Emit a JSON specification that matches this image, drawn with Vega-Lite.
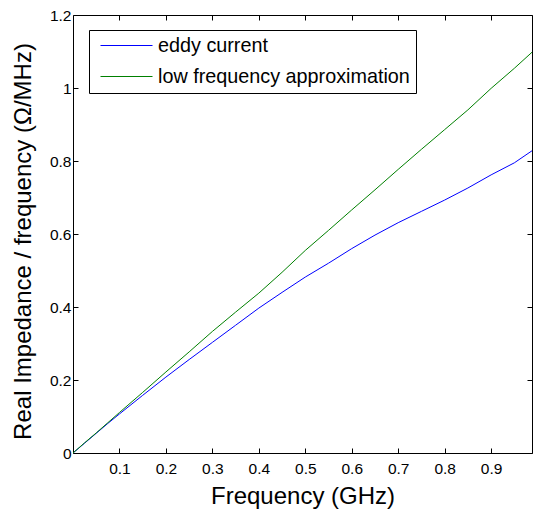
{
  "$schema": "https://vega.github.io/schema/vega-lite/v6.json",
  "autosize": "none",
  "width": 459,
  "height": 438,
  "padding": {"left": 73, "top": 15, "right": 1, "bottom": 59},
  "background": "white",
  "config": {
    "view": {"stroke": null},
    "font": "Liberation Sans",
    "axis": {
      "domainColor": "black",
      "tickColor": "black",
      "labelColor": "black",
      "titleColor": "black",
      "grid": false,
      "tickSize": -5,
      "labelFont": "Liberation Sans",
      "titleFont": "Liberation Sans",
      "labelFontSize": 15.5,
      "titleFontSize": 24,
      "titleFontWeight": "normal"
    }
  },
  "data": {
    "values": [
      {"series": "eddy current", "f": 0.0, "z": 0.0},
      {"series": "eddy current", "f": 0.025, "z": 0.027},
      {"series": "eddy current", "f": 0.05, "z": 0.054},
      {"series": "eddy current", "f": 0.075, "z": 0.081},
      {"series": "eddy current", "f": 0.1, "z": 0.107},
      {"series": "eddy current", "f": 0.15, "z": 0.158},
      {"series": "eddy current", "f": 0.2, "z": 0.208},
      {"series": "eddy current", "f": 0.25, "z": 0.256},
      {"series": "eddy current", "f": 0.3, "z": 0.303},
      {"series": "eddy current", "f": 0.35, "z": 0.35},
      {"series": "eddy current", "f": 0.4, "z": 0.397},
      {"series": "eddy current", "f": 0.45, "z": 0.44},
      {"series": "eddy current", "f": 0.5, "z": 0.482},
      {"series": "eddy current", "f": 0.55, "z": 0.52},
      {"series": "eddy current", "f": 0.6, "z": 0.56},
      {"series": "eddy current", "f": 0.65, "z": 0.597},
      {"series": "eddy current", "f": 0.7, "z": 0.631},
      {"series": "eddy current", "f": 0.75, "z": 0.662},
      {"series": "eddy current", "f": 0.8, "z": 0.693},
      {"series": "eddy current", "f": 0.85, "z": 0.726},
      {"series": "eddy current", "f": 0.9, "z": 0.762},
      {"series": "eddy current", "f": 0.95, "z": 0.795},
      {"series": "eddy current", "f": 0.988, "z": 0.828},
      {"series": "low frequency approximation", "f": 0.0, "z": 0.0},
      {"series": "low frequency approximation", "f": 0.025, "z": 0.028},
      {"series": "low frequency approximation", "f": 0.05, "z": 0.055},
      {"series": "low frequency approximation", "f": 0.075, "z": 0.083},
      {"series": "low frequency approximation", "f": 0.1, "z": 0.111},
      {"series": "low frequency approximation", "f": 0.15, "z": 0.166},
      {"series": "low frequency approximation", "f": 0.2, "z": 0.222},
      {"series": "low frequency approximation", "f": 0.25, "z": 0.277},
      {"series": "low frequency approximation", "f": 0.3, "z": 0.333},
      {"series": "low frequency approximation", "f": 0.35, "z": 0.386},
      {"series": "low frequency approximation", "f": 0.4, "z": 0.438},
      {"series": "low frequency approximation", "f": 0.45, "z": 0.495},
      {"series": "low frequency approximation", "f": 0.5, "z": 0.555},
      {"series": "low frequency approximation", "f": 0.55, "z": 0.61},
      {"series": "low frequency approximation", "f": 0.6, "z": 0.666},
      {"series": "low frequency approximation", "f": 0.65, "z": 0.721},
      {"series": "low frequency approximation", "f": 0.7, "z": 0.777},
      {"series": "low frequency approximation", "f": 0.75, "z": 0.832},
      {"series": "low frequency approximation", "f": 0.8, "z": 0.886},
      {"series": "low frequency approximation", "f": 0.85, "z": 0.94},
      {"series": "low frequency approximation", "f": 0.9, "z": 0.999},
      {"series": "low frequency approximation", "f": 0.95, "z": 1.054},
      {"series": "low frequency approximation", "f": 0.988, "z": 1.098}
    ]
  },
  "layer": [
    {
      "mark": {"type": "line", "strokeWidth": 1, "clip": true},
      "encoding": {
        "x": {
          "field": "f", "type": "quantitative",
          "scale": {"domain": [0, 0.988], "nice": false, "zero": false},
          "axis": {
            "title": "Frequency (GHz)",
            "values": [0.1, 0.2, 0.3, 0.4, 0.5, 0.6, 0.7, 0.8, 0.9],
            "format": ".1f",
            "labelPadding": 13,
            "titleBaseline": "alphabetic",
            "titleY": 50
          }
        },
        "y": {
          "field": "z", "type": "quantitative",
          "scale": {"domain": [0, 1.2], "nice": false},
          "axis": {
            "title": "Real Impedance / frequency (Ω/MHz)",
            "values": [0, 0.2, 0.4, 0.6, 0.8, 1, 1.2],
            "format": ".1~f",
            "labelPadding": 7,
            "titleX": -38,
            "titleY": 226
          }
        },
        "color": {
          "field": "series", "type": "nominal",
          "scale": {"domain": ["eddy current", "low frequency approximation"], "range": ["#0000ff", "#008000"]},
          "legend": {
            "title": null,
            "orient": "none",
            "legendX": 16,
            "legendY": 15,
            "strokeColor": "black",
            "fillColor": "white",
            "padding": 6,
            "symbolOffset": 5,
            "symbolType": "stroke",
            "symbolSize": 2704,
            "symbolStrokeWidth": 1,
            "clipHeight": 19,
            "rowPadding": 10,
            "labelFontSize": 19.8,
            "labelFont": "Liberation Sans",
            "labelColor": "black",
            "labelOffset": 5,
            "labelLimit": 400
          }
        }
      }
    },
    {
      "mark": {"type": "line", "strokeOpacity": 0},
      "encoding": {
        "x": {
          "field": "f", "type": "quantitative",
          "axis": {"orient": "top", "title": null, "labels": false, "values": [0.1, 0.2, 0.3, 0.4, 0.5, 0.6, 0.7, 0.8, 0.9]}
        },
        "y": {
          "field": "z", "type": "quantitative",
          "axis": {"orient": "right", "title": null, "labels": false, "values": [0, 0.2, 0.4, 0.6, 0.8, 1, 1.2]}
        },
        "detail": {"field": "series", "type": "nominal"}
      }
    }
  ],
  "resolve": {"axis": {"x": "independent", "y": "independent"}}
}
